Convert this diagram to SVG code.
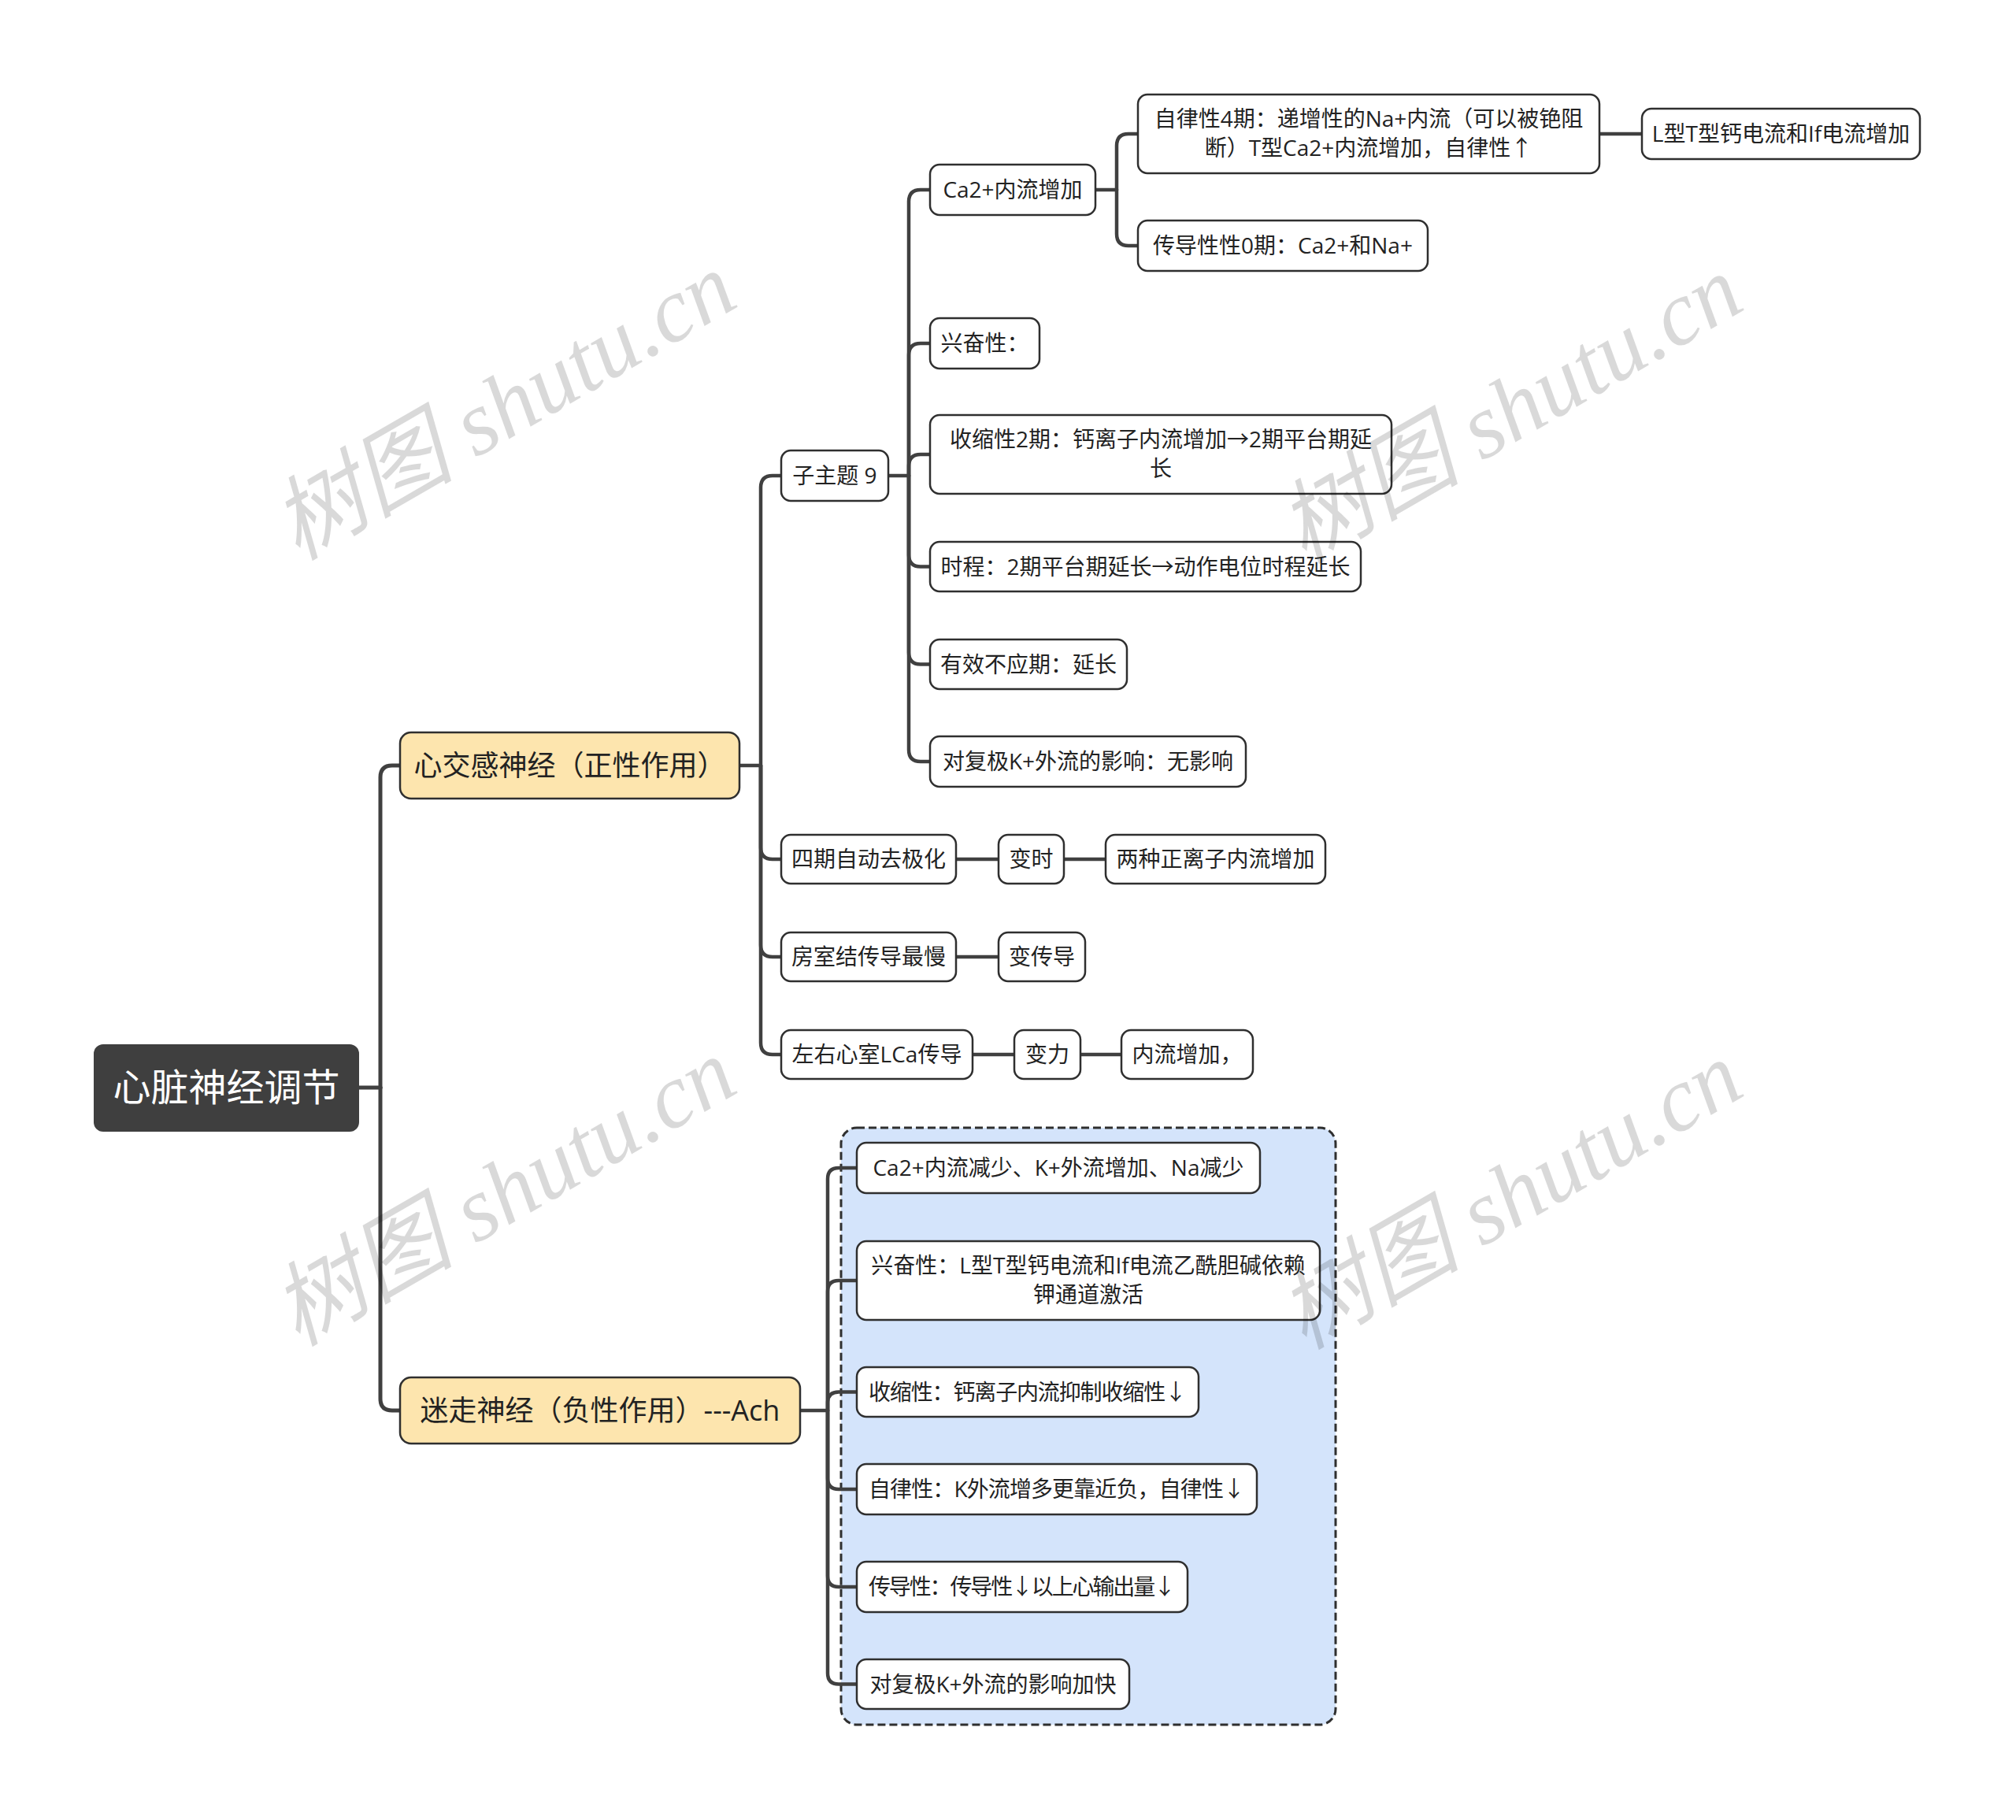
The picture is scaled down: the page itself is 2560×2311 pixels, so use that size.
<svg xmlns="http://www.w3.org/2000/svg" width="2560" height="2311" viewBox="0 0 2560 2311">
<style>
.bg{fill:#ffffff}
.nd{fill:#ffffff;stroke:#2f2f2f;stroke-width:2.5}
.l1{fill:#FDE5AE;stroke:#2f2f2f;stroke-width:2.5}
.rt{fill:#3f3f3f}
.t{font-family:"Open Sans","Noto Sans CJK SC",sans-serif;font-size:28px;fill:#222222;text-anchor:middle}
.t1{font-family:"Open Sans","Noto Sans CJK SC",sans-serif;font-size:36px;fill:#222222;text-anchor:middle}
.t0{font-family:"Open Sans","Noto Sans CJK SC",sans-serif;font-size:48px;fill:#ffffff;text-anchor:middle}
.c{fill:none;stroke:#404040;stroke-width:4.5;stroke-linecap:round}
.wm{font-family:"Liberation Serif","Noto Sans CJK SC",serif;font-style:italic;font-size:116px;fill:#000000;fill-opacity:0.15;text-anchor:middle;dominant-baseline:central}
</style>
<rect class="bg" x="0" y="0" width="2560" height="2311"/>

<g id="boundary">
<rect x="1068" y="1432" width="628" height="758" rx="20" fill="#D4E4FB" stroke="#2f2f2f" stroke-width="3" stroke-dasharray="10 5"/>
</g>

<g id="connectors">
<path class="c" style="stroke-width:5" d="M456,1381 H483"/>
<path class="c" style="stroke-width:5" d="M483,1381 V987 Q483,972 498,972 H508"/>
<path class="c" style="stroke-width:5" d="M483,1381 V1776 Q483,1791 498,1791 H508"/>
<path class="c" d="M939,972 H966"/>
<path class="c" d="M966,972 V619 Q966,604 981,604 H992"/>
<path class="c" d="M966,972 V1076 Q966,1091 981,1091 H992"/>
<path class="c" d="M966,972 V1200 Q966,1215 981,1215 H992"/>
<path class="c" d="M966,972 V1324 Q966,1339 981,1339 H992"/>
<path class="c" d="M1128,604 H1154"/>
<path class="c" d="M1154,604 V256 Q1154,241 1169,241 H1181"/>
<path class="c" d="M1154,604 V451 Q1154,436 1169,436 H1181"/>
<path class="c" d="M1154,604 V592 Q1154,577 1169,577 H1181"/>
<path class="c" d="M1154,604 V704.5 Q1154,719.5 1169,719.5 H1181"/>
<path class="c" d="M1154,604 V828.5 Q1154,843.5 1169,843.5 H1181"/>
<path class="c" d="M1154,604 V952 Q1154,967 1169,967 H1181"/>
<path class="c" d="M1391,241 H1418"/>
<path class="c" d="M1418,241 V185 Q1418,170 1433,170 H1445"/>
<path class="c" d="M1418,241 V297 Q1418,312 1433,312 H1445"/>
<path class="c" d="M2031,170 H2085"/>
<path class="c" d="M1214,1091 H1268"/>
<path class="c" d="M1351,1091 H1404"/>
<path class="c" d="M1214,1215 H1268"/>
<path class="c" d="M1235,1339 H1288"/>
<path class="c" d="M1372,1339 H1424"/>
<path class="c" d="M1016,1791 H1051"/>
<path class="c" d="M1051,1791 V1497 Q1051,1483 1065,1483 H1088"/>
<path class="c" d="M1051,1791 V1640 Q1051,1626 1065,1626 H1088"/>
<path class="c" d="M1051,1791 V1781.5 Q1051,1767.5 1065,1767.5 H1088"/>
<path class="c" d="M1051,1791 V1877 Q1051,1891 1065,1891 H1088"/>
<path class="c" d="M1051,1791 V2001 Q1051,2015 1065,2015 H1088"/>
<path class="c" d="M1051,1791 V2124.5 Q1051,2138.5 1065,2138.5 H1088"/>
</g>

<g id="root">
<rect class="rt" x="119" y="1326" width="337" height="111" rx="12"/>
<text class="t0" x="287.5" y="1398">心脏神经调节</text>
</g>

<g id="n-sympathetic">
<rect class="l1" x="508" y="930" width="431" height="84" rx="14"/>
<text class="t1" x="723.5" y="985">心交感神经（正性作用）</text>
</g>
<g id="n-vagus">
<rect class="l1" x="508" y="1749" width="508" height="84" rx="14"/>
<text class="t1" x="762" y="1804">迷走神经（负性作用）---Ach</text>
</g>

<g id="n-sub9">
<rect class="nd" x="992" y="572" width="136" height="64" rx="12"/>
<text class="t" x="1060" y="614">子主题 9</text>
</g>
<g id="n-ca-in">
<rect class="nd" x="1181" y="209" width="210" height="64" rx="12"/>
<text class="t" x="1286" y="251">Ca2+内流增加</text>
</g>
<g id="n-auto4">
<rect class="nd" x="1445" y="120" width="586" height="100" rx="12"/>
<text class="t" x="1738" y="161">自律性4期：递增性的Na+内流（可以被铯阻</text>
<text class="t" x="1738" y="198">断）T型Ca2+内流增加，自律性↑</text>
</g>
<g id="n-lt">
<rect class="nd" x="2085" y="138" width="353" height="64" rx="12"/>
<text class="t" x="2261.5" y="180">L型T型钙电流和If电流增加</text>
</g>
<g id="n-cond0">
<rect class="nd" x="1445" y="280" width="368" height="64" rx="12"/>
<text class="t" x="1629" y="322">传导性性0期：Ca2+和Na+</text>
</g>
<g id="n-excit">
<rect class="nd" x="1181" y="404" width="139" height="64" rx="12"/>
<text class="t" x="1250.5" y="446">兴奋性：</text>
</g>
<g id="n-contract2">
<rect class="nd" x="1181" y="527" width="586" height="100" rx="12"/>
<text class="t" x="1474" y="568">收缩性2期：钙离子内流增加→2期平台期延</text>
<text class="t" x="1474" y="605">长</text>
</g>
<g id="n-duration">
<rect class="nd" x="1181" y="688" width="547" height="63" rx="12"/>
<text class="t" x="1454.5" y="729.5">时程：2期平台期延长→动作电位时程延长</text>
</g>
<g id="n-erp">
<rect class="nd" x="1181" y="812" width="250" height="63" rx="12"/>
<text class="t" x="1306" y="853.5">有效不应期：延长</text>
</g>
<g id="n-repol1">
<rect class="nd" x="1181" y="935" width="401" height="64" rx="12"/>
<text class="t" x="1381.5" y="977">对复极K+外流的影响：无影响</text>
</g>
<g id="n-phase4">
<rect class="nd" x="992" y="1060" width="222" height="62" rx="12"/>
<text class="t" x="1103" y="1101">四期自动去极化</text>
</g>
<g id="n-chrono">
<rect class="nd" x="1268" y="1060" width="83" height="62" rx="12"/>
<text class="t" x="1309.5" y="1101">变时</text>
</g>
<g id="n-twoions">
<rect class="nd" x="1404" y="1060" width="279" height="62" rx="12"/>
<text class="t" x="1543.5" y="1101">两种正离子内流增加</text>
</g>
<g id="n-avnode">
<rect class="nd" x="992" y="1184" width="222" height="62" rx="12"/>
<text class="t" x="1103" y="1225">房室结传导最慢</text>
</g>
<g id="n-dromo">
<rect class="nd" x="1268" y="1184" width="110" height="62" rx="12"/>
<text class="t" x="1323" y="1225">变传导</text>
</g>
<g id="n-ventricle">
<rect class="nd" x="992" y="1308" width="243" height="62" rx="12"/>
<text class="t" x="1113.5" y="1349">左右心室LCa传导</text>
</g>
<g id="n-ino">
<rect class="nd" x="1288" y="1308" width="84" height="62" rx="12"/>
<text class="t" x="1330" y="1349">变力</text>
</g>
<g id="n-inflow">
<rect class="nd" x="1424" y="1308" width="167" height="62" rx="12"/>
<text class="t" x="1507.5" y="1349">内流增加，</text>
</g>

<g id="v-1">
<rect class="nd" x="1088" y="1451" width="512" height="64" rx="12"/>
<text class="t" x="1344" y="1493">Ca2+内流减少、K+外流增加、Na减少</text>
</g>
<g id="v-2">
<rect class="nd" x="1088" y="1576" width="588" height="100" rx="12"/>
<text class="t" x="1382" y="1617">兴奋性：L型T型钙电流和If电流乙酰胆碱依赖</text>
<text class="t" x="1382" y="1654">钾通道激活</text>
</g>
<g id="v-3">
<rect class="nd" x="1088" y="1736" width="434" height="63" rx="12"/>
<text class="t" x="1305" y="1777.5" textLength="404" lengthAdjust="spacing">收缩性：钙离子内流抑制收缩性↓</text>
</g>
<g id="v-4">
<rect class="nd" x="1088" y="1859" width="508" height="64" rx="12"/>
<text class="t" x="1342" y="1901" textLength="478" lengthAdjust="spacing">自律性：K外流增多更靠近负，自律性↓</text>
</g>
<g id="v-5">
<rect class="nd" x="1088" y="1983" width="420" height="64" rx="12"/>
<text class="t" x="1298" y="2025" textLength="390" lengthAdjust="spacing">传导性：传导性↓以上心输出量↓</text>
</g>
<g id="v-6">
<rect class="nd" x="1088" y="2107" width="346" height="63" rx="12"/>
<text class="t" x="1261" y="2148.5">对复极K+外流的影响加快</text>
</g>

<g id="watermarks">
<text class="wm" transform="translate(640,516) rotate(-30)">树图 shutu.cn</text>
<text class="wm" transform="translate(1918,520) rotate(-30)">树图 shutu.cn</text>
<text class="wm" transform="translate(640,1514) rotate(-30)">树图 shutu.cn</text>
<text class="wm" transform="translate(1918,1518) rotate(-30)">树图 shutu.cn</text>
</g>
</svg>
